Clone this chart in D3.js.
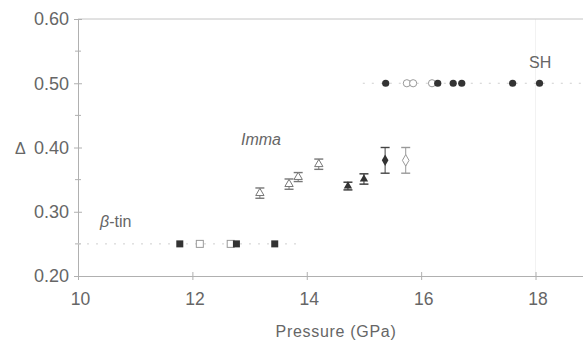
<!DOCTYPE html>
<html>
<head>
<meta charset="utf-8">
<script src="https://cdn.jsdelivr.net/npm/d3@7"></script>
<style>
  body { margin: 0; background: #fff; }
  svg text { font-family: "Liberation Sans", Arial, sans-serif; fill: #666; }
</style>
</head>
<body>
<div id="holder"></div>
<script>
// beta-tin phase, delta = 0.25
var betaFilledP = [11.78, 12.77, 13.44];
var betaOpenP = [12.13, 12.67];
var betaDelta = 0.25;

// SH phase, delta = 0.50
var shFilledP = [15.38, 16.29, 16.56, 16.71, 17.6, 18.07];
var shOpenP = [15.75, 15.86, 16.19];
var shDelta = 0.5;

// Imma phase (with error bars)
var immaOpenP = [13.18, 13.69, 13.85, 14.21];
var immaOpenD = [0.329, 0.343, 0.354, 0.374];
var immaOpenErr = [0.008, 0.008, 0.007, 0.008];
var immaFilledP = [14.72, 15.0];
var immaFilledD = [0.340, 0.351];
var immaFilledErr = [0.006, 0.008];

var diamondFilledP = [15.37];
var diamondOpenP = [15.73];
var diamondD = [0.38];
var diamondErr = [0.02];

var xTicks = [10, 12, 14, 16, 18];
var yTicks = [0.20, 0.30, 0.40, 0.50, 0.60];
var yMinor = [0.25, 0.35, 0.45, 0.55];

function generateChart() {
  var fullWidth = 583, fullHeight = 341;
  var left = 78, top = 19, bottom = 276, right = 583;

  var svg = d3.select('#holder').append('svg')
    .attr('width', fullWidth)
    .attr('height', fullHeight);

  var x = d3.scaleLinear().domain([10, 18.83]).range([left, right]);
  var y = d3.scaleLinear().domain([0.2, 0.6]).range([bottom, top]);

  var dark = '#333';
  var light = '#999';
  var axisCol = '#b0b0b0';

  // faint vertical line at 18
  svg.append('line')
    .attr('x1', x(18)).attr('x2', x(18))
    .attr('y1', top).attr('y2', bottom)
    .attr('stroke', '#f2f2f2');

  // top frame
  svg.append('line')
    .attr('x1', left).attr('x2', right)
    .attr('y1', top).attr('y2', top)
    .attr('stroke', '#c4c4c4');

  // axes
  var xaxis = d3.axisBottom(x).tickValues(xTicks).tickSize(0).tickPadding(17)
    .tickFormat(d3.format('d'));
  var gx = svg.append('g')
    .attr('transform', 'translate(0,' + bottom + ')')
    .call(xaxis);
  gx.select('.domain').attr('stroke', axisCol);
  gx.selectAll('text').style('font-size', '17.5px').attr('fill', '#666')
    .attr('dx', 2);
  gx.selectAll('.tick').append('line')
    .attr('y1', -4).attr('y2', 4).attr('stroke', axisCol);

  var yaxis = d3.axisLeft(y).tickValues(yTicks).tickSize(0).tickPadding(9)
    .tickFormat(d3.format('.2f'));
  var gy = svg.append('g')
    .attr('transform', 'translate(' + left + ',0)')
    .call(yaxis);
  gy.select('.domain').attr('stroke', axisCol);
  gy.selectAll('text').style('font-size', '18px').attr('fill', '#666');
  gy.selectAll('.tick').append('line')
    .attr('x1', -4).attr('x2', 4).attr('stroke', axisCol);

  gy.selectAll('line.minor')
    .data(yMinor)
    .enter().append('line')
    .attr('x1', -3).attr('x2', 3)
    .attr('y1', function(d) { return y(d); })
    .attr('y2', function(d) { return y(d); })
    .attr('stroke', axisCol);

  // axis titles
  svg.append('text')
    .attr('x', 336).attr('y', 337)
    .attr('text-anchor', 'middle')
    .style('font-size', '16px')
    .style('letter-spacing', '0.7px')
    .text('Pressure  (GPa)');
  svg.append('text')
    .attr('x', 15).attr('y', y(0.4) + 6)
    .style('font-size', '16px')
    .text('Δ');

  // phase labels
  svg.append('text')
    .attr('x', 100).attr('y', 227)
    .style('font-size', '16px')
    .html('<tspan font-style="italic">β</tspan>-tin');
  svg.append('text')
    .attr('x', 241).attr('y', 145)
    .style('font-size', '16px')
    .style('font-style', 'italic')
    .text('Imma');
  svg.append('text')
    .attr('x', 529).attr('y', 68)
    .style('font-size', '16px')
    .text('SH');

  // dotted phase lines
  svg.append('line')
    .attr('x1', x(10)).attr('x2', x(13.9))
    .attr('y1', y(betaDelta)).attr('y2', y(betaDelta))
    .attr('stroke', '#cfcfcf').attr('stroke-dasharray', '2,7');
  svg.append('line')
    .attr('x1', x(14.98)).attr('x2', right)
    .attr('y1', y(shDelta)).attr('y2', y(shDelta))
    .attr('stroke', '#cfcfcf').attr('stroke-dasharray', '2,7');

  var sq = 7;
  // beta-tin squares
  svg.selectAll('rect.bopen')
    .data(betaOpenP)
    .enter().append('rect')
    .attr('x', function(d) { return x(d) - sq / 2; })
    .attr('y', y(betaDelta) - sq / 2)
    .attr('width', sq).attr('height', sq)
    .attr('fill', '#fff').attr('stroke', light).attr('stroke-width', 1);
  svg.selectAll('rect.bfill')
    .data(betaFilledP)
    .enter().append('rect')
    .attr('x', function(d) { return x(d) - sq / 2; })
    .attr('y', y(betaDelta) - sq / 2)
    .attr('width', sq).attr('height', sq)
    .attr('fill', dark);

  // SH circles
  var r = 3.6;
  svg.selectAll('circle.sopen')
    .data(shOpenP)
    .enter().append('circle')
    .attr('cx', function(d) { return x(d); })
    .attr('cy', y(shDelta))
    .attr('r', r)
    .attr('fill', '#fff').attr('stroke', light);
  svg.selectAll('circle.sfill')
    .data(shFilledP)
    .enter().append('circle')
    .attr('cx', function(d) { return x(d); })
    .attr('cy', y(shDelta))
    .attr('r', r)
    .attr('fill', dark);

  // error bars helper
  function errorBars(ps, ds, es, col) {
    var g = svg.append('g');
    ps.forEach(function(p, i) {
      var cx = x(p), y0 = y(ds[i] - es[i]), y1 = y(ds[i] + es[i]);
      g.append('line').attr('x1', cx).attr('x2', cx)
        .attr('y1', y0).attr('y2', y1).attr('stroke', col);
      [y0, y1].forEach(function(yy) {
        g.append('line').attr('x1', cx - 4.5).attr('x2', cx + 4.5)
          .attr('y1', yy).attr('y2', yy).attr('stroke', col).attr('stroke-width', 1.4);
      });
    });
  }

  errorBars(immaOpenP, immaOpenD, immaOpenErr, '#777');
  errorBars(immaFilledP, immaFilledD, immaFilledErr, dark);
  errorBars(diamondFilledP, diamondD, diamondErr, '#444');
  errorBars(diamondOpenP, diamondD, diamondErr, light);

  var tri = d3.symbol().type(d3.symbolTriangle).size(30);
  var dia = d3.symbol().type(d3.symbolDiamond).size(38);

  svg.selectAll('path.topen')
    .data(immaOpenP)
    .enter().append('path')
    .attr('d', tri)
    .attr('transform', function(d, i) { return 'translate(' + x(d) + ',' + y(immaOpenD[i]) + ')'; })
    .attr('fill', '#fff').attr('stroke', '#777');
  svg.selectAll('path.tfill')
    .data(immaFilledP)
    .enter().append('path')
    .attr('d', tri)
    .attr('transform', function(d, i) { return 'translate(' + x(d) + ',' + y(immaFilledD[i]) + ')'; })
    .attr('fill', dark);

  svg.selectAll('path.dfill')
    .data(diamondFilledP)
    .enter().append('path')
    .attr('d', dia)
    .attr('transform', function(d, i) { return 'translate(' + x(d) + ',' + y(diamondD[i]) + ')'; })
    .attr('fill', dark);
  svg.selectAll('path.dopen')
    .data(diamondOpenP)
    .enter().append('path')
    .attr('d', dia)
    .attr('transform', function(d, i) { return 'translate(' + x(d) + ',' + y(diamondD[i]) + ')'; })
    .attr('fill', '#fff').attr('stroke', light);
}

generateChart();
</script>
</body>
</html>
